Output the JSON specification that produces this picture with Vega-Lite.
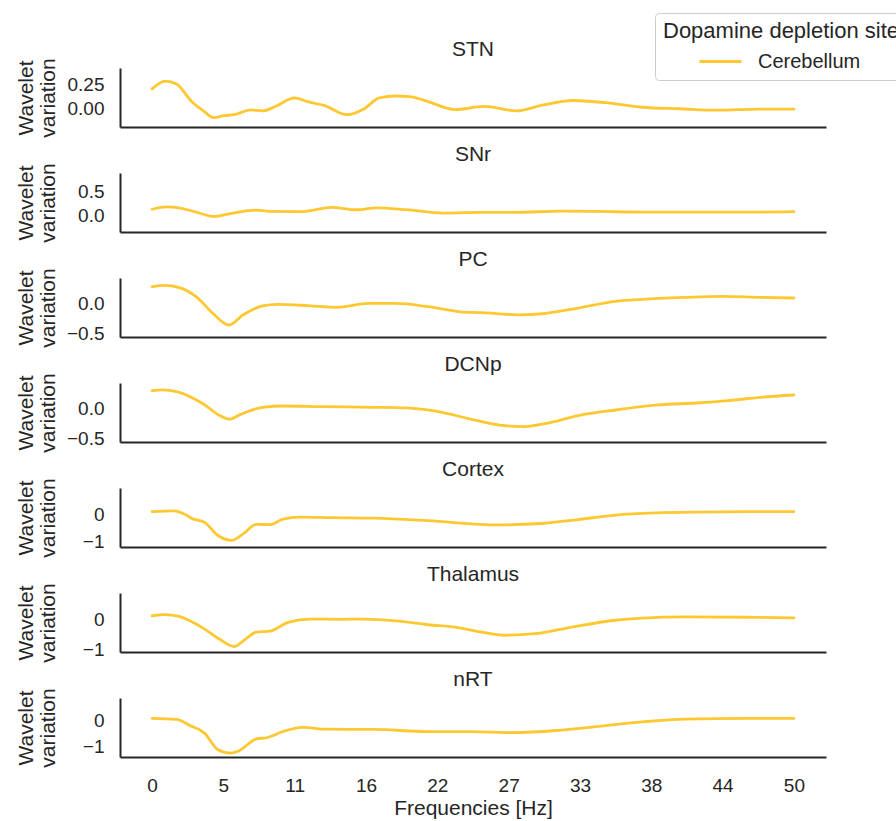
{
  "$schema": "https://vega.github.io/schema/vega-lite/v6.json",
  "autosize": {"type": "none"},
  "padding": {"left": 120, "top": 68, "right": 776, "bottom": 753},
  "background": "white",
  "bounds": "flush",
  "spacing": 46,
  "config": {
    "font": "Liberation Sans",
    "view": {"stroke": null},
    "title": {"fontSize": 21, "fontWeight": "normal", "color": "#262626", "frame": "group", "anchor": "middle", "baseline": "alphabetic", "offset": -2},
    "axis": {"domainColor": "#262626", "domainWidth": 2, "ticks": false, "tickSize": 0, "grid": false, "labelFontSize": 19, "labelColor": "#262626", "titleFontSize": 21, "titleFontWeight": "normal", "titleColor": "#262626", "labelFlush": false},
    "axisY": {"labelPadding": 16, "titleX": -88, "titleY": 29.5, "titleBaseline": "alphabetic", "titleLineHeight": 22},
    "axisX": {"labelPadding": 19, "titlePadding": 2},
    "line": {"strokeWidth": 2.8, "interpolate": "monotone", "strokeCap": "round"}
  },
  "data": {"values": [
    {"r":"STN","f":0,"v":0.2},{"r":"STN","f":1.04,"v":0.28},{"r":"STN","f":1.9,"v":0.25},{"r":"STN","f":3.1,"v":0.066},{"r":"STN","f":4.0,"v":-0.03},{"r":"STN","f":4.8,"v":-0.1},{"r":"STN","f":5.6,"v":-0.08},{"r":"STN","f":6.4,"v":-0.07},{"r":"STN","f":7.7,"v":-0.02},{"r":"STN","f":8.6,"v":-0.03},{"r":"STN","f":9.6,"v":0.015},{"r":"STN","f":11.1,"v":0.105},{"r":"STN","f":12.1,"v":0.066},{"r":"STN","f":13.4,"v":0.027},{"r":"STN","f":15.2,"v":-0.07},{"r":"STN","f":16.5,"v":-0.01},{"r":"STN","f":17.7,"v":0.105},{"r":"STN","f":19.0,"v":0.125},{"r":"STN","f":20.2,"v":0.117},{"r":"STN","f":21.5,"v":0.066},{"r":"STN","f":23.6,"v":-0.016},{"r":"STN","f":25.9,"v":0.016},{"r":"STN","f":28.4,"v":-0.03},{"r":"STN","f":30.3,"v":0.027},{"r":"STN","f":32.8,"v":0.078},{"r":"STN","f":35.3,"v":0.055},{"r":"STN","f":38.2,"v":0.008},{"r":"STN","f":41.1,"v":-0.008},{"r":"STN","f":44.0,"v":-0.023},{"r":"STN","f":47.4,"v":-0.012},{"r":"STN","f":50,"v":-0.012},
    {"r":"SNr","f":0,"v":0.12},{"r":"SNr","f":1.1,"v":0.17},{"r":"SNr","f":2.3,"v":0.14},{"r":"SNr","f":3.5,"v":0.055},{"r":"SNr","f":4.8,"v":-0.03},{"r":"SNr","f":6.1,"v":0.03},{"r":"SNr","f":8.1,"v":0.1},{"r":"SNr","f":9.4,"v":0.075},{"r":"SNr","f":11.7,"v":0.07},{"r":"SNr","f":14.0,"v":0.16},{"r":"SNr","f":15.9,"v":0.11},{"r":"SNr","f":17.5,"v":0.15},{"r":"SNr","f":19.8,"v":0.11},{"r":"SNr","f":22.7,"v":0.04},{"r":"SNr","f":25.7,"v":0.055},{"r":"SNr","f":28.2,"v":0.055},{"r":"SNr","f":31.9,"v":0.08},{"r":"SNr","f":34.8,"v":0.075},{"r":"SNr","f":38.2,"v":0.06},{"r":"SNr","f":42.4,"v":0.06},{"r":"SNr","f":46.5,"v":0.06},{"r":"SNr","f":50,"v":0.07},
    {"r":"PC","f":0,"v":0.29},{"r":"PC","f":1.0,"v":0.31},{"r":"PC","f":2.3,"v":0.26},{"r":"PC","f":3.5,"v":0.11},{"r":"PC","f":4.8,"v":-0.17},{"r":"PC","f":6.0,"v":-0.35},{"r":"PC","f":7.1,"v":-0.18},{"r":"PC","f":8.6,"v":-0.03},{"r":"PC","f":9.8,"v":-0.005},{"r":"PC","f":12.3,"v":-0.03},{"r":"PC","f":14.4,"v":-0.055},{"r":"PC","f":16.9,"v":0.01},{"r":"PC","f":19.0,"v":0.01},{"r":"PC","f":21.5,"v":-0.045},{"r":"PC","f":24.0,"v":-0.13},{"r":"PC","f":25.7,"v":-0.145},{"r":"PC","f":28.6,"v":-0.18},{"r":"PC","f":30.7,"v":-0.155},{"r":"PC","f":33.2,"v":-0.067},{"r":"PC","f":36.1,"v":0.044},{"r":"PC","f":38.2,"v":0.078},{"r":"PC","f":41.5,"v":0.11},{"r":"PC","f":44.4,"v":0.128},{"r":"PC","f":47.4,"v":0.11},{"r":"PC","f":50,"v":0.1},
    {"r":"DCNp","f":0,"v":0.305},{"r":"DCNp","f":0.8,"v":0.32},{"r":"DCNp","f":1.9,"v":0.29},{"r":"DCNp","f":4.0,"v":0.083},{"r":"DCNp","f":5.2,"v":-0.1},{"r":"DCNp","f":6.0,"v":-0.17},{"r":"DCNp","f":6.9,"v":-0.09},{"r":"DCNp","f":8.6,"v":0.028},{"r":"DCNp","f":10.2,"v":0.05},{"r":"DCNp","f":13.1,"v":0.039},{"r":"DCNp","f":17.3,"v":0.028},{"r":"DCNp","f":19.8,"v":0.017},{"r":"DCNp","f":22.3,"v":-0.045},{"r":"DCNp","f":24.8,"v":-0.167},{"r":"DCNp","f":27.1,"v":-0.267},{"r":"DCNp","f":28.8,"v":-0.295},{"r":"DCNp","f":30.7,"v":-0.24},{"r":"DCNp","f":33.2,"v":-0.11},{"r":"DCNp","f":36.1,"v":-0.017},{"r":"DCNp","f":39.4,"v":0.067},{"r":"DCNp","f":42.4,"v":0.1},{"r":"DCNp","f":44.9,"v":0.139},{"r":"DCNp","f":47.4,"v":0.194},{"r":"DCNp","f":50,"v":0.233},
    {"r":"Cortex","f":0,"v":0.085},{"r":"Cortex","f":1.7,"v":0.11},{"r":"Cortex","f":2.5,"v":0},{"r":"Cortex","f":3.1,"v":-0.16},{"r":"Cortex","f":4.1,"v":-0.3},{"r":"Cortex","f":5.1,"v":-0.76},{"r":"Cortex","f":6.2,"v":-0.94},{"r":"Cortex","f":7.1,"v":-0.71},{"r":"Cortex","f":8.1,"v":-0.37},{"r":"Cortex","f":9.2,"v":-0.38},{"r":"Cortex","f":10.2,"v":-0.18},{"r":"Cortex","f":11.5,"v":-0.11},{"r":"Cortex","f":14.0,"v":-0.13},{"r":"Cortex","f":17.3,"v":-0.15},{"r":"Cortex","f":21.5,"v":-0.24},{"r":"Cortex","f":26.9,"v":-0.39},{"r":"Cortex","f":30.3,"v":-0.34},{"r":"Cortex","f":33.2,"v":-0.2},{"r":"Cortex","f":36.1,"v":-0.04},{"r":"Cortex","f":39.4,"v":0.04},{"r":"Cortex","f":42.4,"v":0.07},{"r":"Cortex","f":46.5,"v":0.085},{"r":"Cortex","f":50,"v":0.085},
    {"r":"Thalamus","f":0,"v":0.14},{"r":"Thalamus","f":1.0,"v":0.18},{"r":"Thalamus","f":2.1,"v":0.12},{"r":"Thalamus","f":4.0,"v":-0.28},{"r":"Thalamus","f":5.2,"v":-0.63},{"r":"Thalamus","f":6.4,"v":-0.89},{"r":"Thalamus","f":7.3,"v":-0.63},{"r":"Thalamus","f":8.1,"v":-0.41},{"r":"Thalamus","f":9.2,"v":-0.37},{"r":"Thalamus","f":10.6,"v":-0.08},{"r":"Thalamus","f":12.3,"v":0.03},{"r":"Thalamus","f":14.8,"v":0.02},{"r":"Thalamus","f":16.5,"v":0.03},{"r":"Thalamus","f":19.0,"v":-0.03},{"r":"Thalamus","f":21.5,"v":-0.16},{"r":"Thalamus","f":23.6,"v":-0.24},{"r":"Thalamus","f":25.7,"v":-0.41},{"r":"Thalamus","f":27.5,"v":-0.51},{"r":"Thalamus","f":29.8,"v":-0.46},{"r":"Thalamus","f":32.3,"v":-0.27},{"r":"Thalamus","f":36.1,"v":-0.01},{"r":"Thalamus","f":38.2,"v":0.06},{"r":"Thalamus","f":41.5,"v":0.1},{"r":"Thalamus","f":46.5,"v":0.09},{"r":"Thalamus","f":50,"v":0.07},
    {"r":"nRT","f":0,"v":0.067},{"r":"nRT","f":1.9,"v":0.03},{"r":"nRT","f":2.9,"v":-0.2},{"r":"nRT","f":4.1,"v":-0.51},{"r":"nRT","f":5.1,"v":-1.13},{"r":"nRT","f":6.1,"v":-1.27},{"r":"nRT","f":6.7,"v":-1.2},{"r":"nRT","f":8.1,"v":-0.73},{"r":"nRT","f":9.0,"v":-0.67},{"r":"nRT","f":10.2,"v":-0.44},{"r":"nRT","f":11.7,"v":-0.28},{"r":"nRT","f":13.6,"v":-0.35},{"r":"nRT","f":17.3,"v":-0.36},{"r":"nRT","f":21.5,"v":-0.44},{"r":"nRT","f":24.8,"v":-0.44},{"r":"nRT","f":28.2,"v":-0.48},{"r":"nRT","f":31.5,"v":-0.4},{"r":"nRT","f":34.8,"v":-0.24},{"r":"nRT","f":38.2,"v":-0.067},{"r":"nRT","f":41.5,"v":0.04},{"r":"nRT","f":46.5,"v":0.067},{"r":"nRT","f":50,"v":0.067}
  ]},
  "vconcat": [
    {
      "title": "STN", "width": 706, "height": 59,
      "transform": [{"filter": "datum.r == 'STN'"}],
      "mark": "line",
      "encoding": {
        "x": {"field": "f", "type": "quantitative", "scale": {"domain": [-2.5, 52.5], "nice": false, "zero": false}, "axis": {"labels": false, "title": null}},
        "y": {"field": "v", "type": "quantitative", "scale": {"domain": [-0.198, 0.417], "nice": false, "zero": false}, "axis": {"values": [0, 0.25], "format": ".2f", "title": ["Wavelet", "variation"]}},
        "color": {"datum": "Cerebellum", "type": "nominal", "scale": {"range": ["#fdc832"]}, "legend": {"title": "Dopamine depletion site", "orient": "none", "legendX": 535, "legendY": -55, "padding": 8, "strokeColor": "#cccccc", "cornerRadius": 4, "fillColor": "white", "titleFontSize": 22, "titleFontWeight": "normal", "titleColor": "#262626", "titleLimit": 500, "labelFontSize": 20, "labelColor": "#262626", "symbolType": "stroke", "symbolSize": 1764, "symbolStrokeWidth": 2.8, "symbolOffset": 35, "labelOffset": 15, "titlePadding": -4}}
      }
    },
    {
      "title": "SNr", "width": 706, "height": 59,
      "transform": [{"filter": "datum.r == 'SNr'"}],
      "mark": "line",
      "encoding": {
        "x": {"field": "f", "type": "quantitative", "scale": {"domain": [-2.5, 52.5], "nice": false, "zero": false}, "axis": {"labels": false, "title": null}},
        "y": {"field": "v", "type": "quantitative", "scale": {"domain": [-0.354, 0.875], "nice": false, "zero": false}, "axis": {"values": [0, 0.5], "format": ".1f", "title": ["Wavelet", "variation"]}},
        "color": {"datum": "Cerebellum", "type": "nominal"}
      }
    },
    {
      "title": "PC", "width": 706, "height": 59,
      "transform": [{"filter": "datum.r == 'PC'"}],
      "mark": "line",
      "encoding": {
        "x": {"field": "f", "type": "quantitative", "scale": {"domain": [-2.5, 52.5], "nice": false, "zero": false}, "axis": {"labels": false, "title": null}},
        "y": {"field": "v", "type": "quantitative", "scale": {"domain": [-0.55, 0.433], "nice": false, "zero": false}, "axis": {"values": [-0.5, 0], "format": ".1f", "title": ["Wavelet", "variation"]}},
        "color": {"datum": "Cerebellum", "type": "nominal"}
      }
    },
    {
      "title": "DCNp", "width": 706, "height": 59,
      "transform": [{"filter": "datum.r == 'DCNp'"}],
      "mark": "line",
      "encoding": {
        "x": {"field": "f", "type": "quantitative", "scale": {"domain": [-2.5, 52.5], "nice": false, "zero": false}, "axis": {"labels": false, "title": null}},
        "y": {"field": "v", "type": "quantitative", "scale": {"domain": [-0.55, 0.433], "nice": false, "zero": false}, "axis": {"values": [-0.5, 0], "format": ".1f", "title": ["Wavelet", "variation"]}},
        "color": {"datum": "Cerebellum", "type": "nominal"}
      }
    },
    {
      "title": "Cortex", "width": 706, "height": 59,
      "transform": [{"filter": "datum.r == 'Cortex'"}],
      "mark": "line",
      "encoding": {
        "x": {"field": "f", "type": "quantitative", "scale": {"domain": [-2.5, 52.5], "nice": false, "zero": false}, "axis": {"labels": false, "title": null}},
        "y": {"field": "v", "type": "quantitative", "scale": {"domain": [-1.18, 0.93], "nice": false, "zero": false}, "axis": {"values": [-1, 0], "format": "d", "title": ["Wavelet", "variation"]}},
        "color": {"datum": "Cerebellum", "type": "nominal"}
      }
    },
    {
      "title": "Thalamus", "width": 706, "height": 59,
      "transform": [{"filter": "datum.r == 'Thalamus'"}],
      "mark": "line",
      "encoding": {
        "x": {"field": "f", "type": "quantitative", "scale": {"domain": [-2.5, 52.5], "nice": false, "zero": false}, "axis": {"labels": false, "title": null}},
        "y": {"field": "v", "type": "quantitative", "scale": {"domain": [-1.07, 0.9], "nice": false, "zero": false}, "axis": {"values": [-1, 0], "format": "d", "title": ["Wavelet", "variation"]}},
        "color": {"datum": "Cerebellum", "type": "nominal"}
      }
    },
    {
      "title": "nRT", "width": 706, "height": 59,
      "transform": [{"filter": "datum.r == 'nRT'"}],
      "mark": "line",
      "encoding": {
        "x": {"field": "f", "type": "quantitative", "scale": {"domain": [-2.5, 52.5], "nice": false, "zero": false}, "axis": {"values": [0, 5.5556, 11.1111, 16.6667, 22.2222, 27.7778, 33.3333, 38.8889, 44.4444, 50], "labelExpr": "floor(datum.value)", "title": "Frequencies [Hz]"}},
        "y": {"field": "v", "type": "quantitative", "scale": {"domain": [-1.42, 0.85], "nice": false, "zero": false}, "axis": {"values": [-1, 0], "format": "d", "title": ["Wavelet", "variation"]}},
        "color": {"datum": "Cerebellum", "type": "nominal"}
      }
    }
  ]
}
